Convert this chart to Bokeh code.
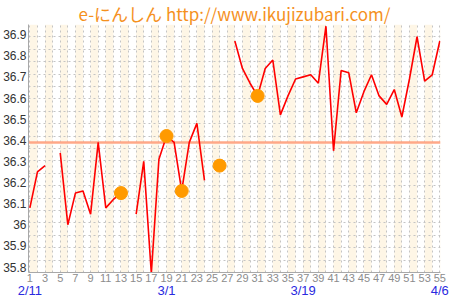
import math
from bokeh.plotting import figure
from bokeh.models import Range1d, FixedTicker, LinearAxis, Grid
from bokeh.embed import file_html
from bokeh.resources import INLINE

nan = float("nan")

# ---- data ----
days = list(range(1, 56))
temps = [36.08, 36.25, 36.28, nan, 36.34, 36.00, 36.15, 36.16, 36.05, 36.39,
         36.08, 36.12, 36.15, nan, 36.05, 36.30, 35.77, 36.31, 36.42, 36.39,
         36.16, 36.39, 36.48, 36.21, nan, 36.28, nan, 36.87, 36.74, 36.67,
         36.61, 36.74, 36.78, 36.52, 36.61, 36.69, 36.70, 36.71, 36.67, 36.94,
         36.35, 36.73, 36.72, 36.53, 36.63, 36.71, 36.61, 36.57, 36.64, 36.51,
         36.69, 36.89, 36.68, 36.71, 36.87]
mark_days = [13, 19, 21, 26, 31]
mark_temps = [temps[d - 1] for d in mark_days]
cover_line = 36.39

y_ticks = [35.8, 35.9, 36.0, 36.1, 36.2, 36.3, 36.4, 36.5, 36.6, 36.7, 36.8, 36.9]
y_tick_labels = ["35.8", "35.9", "36", "36.1", "36.2", "36.3", "36.4", "36.5",
                 "36.6", "36.7", "36.8", "36.9"]
x_ticks = list(range(1, 56, 2))
date_days = [1, 19, 37, 55]
date_labels = ["2/11", "3/1", "3/19", "4/6"]
title_text = "e-にんしん http://www.ikujizubari.com/"

# ---- figure ----
x0, x1 = 0.82, 55.09
y0, y1 = 35.774, 36.948
p = figure(width=450, height=300, output_backend="svg", toolbar_location=None,
           x_range=Range1d(x0, x1), y_range=Range1d(y0, y1),
           x_axis_location=None, y_axis_location=None,
           min_border_left=27, min_border_right=10,
           min_border_top=0, min_border_bottom=0,
           title=title_text)
p.outline_line_color = None
p.background_fill_color = "white"
p.border_fill_color = "white"

p.title.align = "center"
p.title.text_color = "#F5911E"
p.title.text_font = "Noto Sans CJK JP"
p.title.text_font_size = "17px"
p.title.text_font_style = "normal"
p.title.standoff = -3
p.title.offset = 0

# grids
for g in list(p.center):
    p.center.remove(g)

xgrid = Grid(dimension=0, ticker=FixedTicker(ticks=days),
             grid_line_color="#C4C4C4", grid_line_dash="2 3",
             band_fill_color="#FEF6E6", band_fill_alpha=1.0)
n_rows = 20
ygrid_ticks = [y0 + (y1 - y0) * k / n_rows for k in range(1, n_rows)]
ygrid = Grid(dimension=1, ticker=FixedTicker(ticks=ygrid_ticks),
             grid_line_color="#C4C4C4", grid_line_dash="2 3")
p.add_layout(xgrid)
p.add_layout(ygrid)

def plain(ax):
    ax.major_tick_out = 0
    ax.major_tick_in = 0
    ax.minor_tick_out = 0
    ax.minor_tick_in = 0
    ax.major_tick_line_color = None
    ax.minor_tick_line_color = None
    ax.major_label_text_font = "Liberation Sans"

# axes
yaxis = LinearAxis(ticker=FixedTicker(ticks=y_ticks),
                   major_label_overrides=dict(zip(y_ticks, y_tick_labels)))
plain(yaxis)
yaxis.axis_line_color = "#A8A8A8"
yaxis.major_label_text_font_size = "12px"
yaxis.major_label_text_color = "#333333"
yaxis.major_label_standoff = 2
p.add_layout(yaxis, "left")

xaxis = LinearAxis(ticker=FixedTicker(ticks=x_ticks))
plain(xaxis)
xaxis.axis_line_color = "#A8A8A8"
xaxis.major_label_text_font_size = "11px"
xaxis.major_label_text_color = "#8C8C8C"
xaxis.major_label_standoff = 1
p.add_layout(xaxis, "below")

daxis = LinearAxis(ticker=FixedTicker(ticks=date_days),
                   major_label_overrides=dict(zip(date_days, date_labels)))
plain(daxis)
daxis.axis_line_color = None
daxis.major_label_text_font_size = "13px"
daxis.major_label_text_color = "#2A2AE0"
daxis.major_label_standoff = -2
p.add_layout(daxis, "below")

# glyphs
p.hspan(y=[cover_line], line_color="#FFA888", line_width=2.5)
p.line(x=days, y=temps, line_color="#FF0000", line_width=1.6)
p.scatter(x=mark_days, y=mark_temps, size=13, fill_color="#FF9A00",
          line_color="#FF9A00")

open("out.html", "w").write(file_html(p, INLINE))
